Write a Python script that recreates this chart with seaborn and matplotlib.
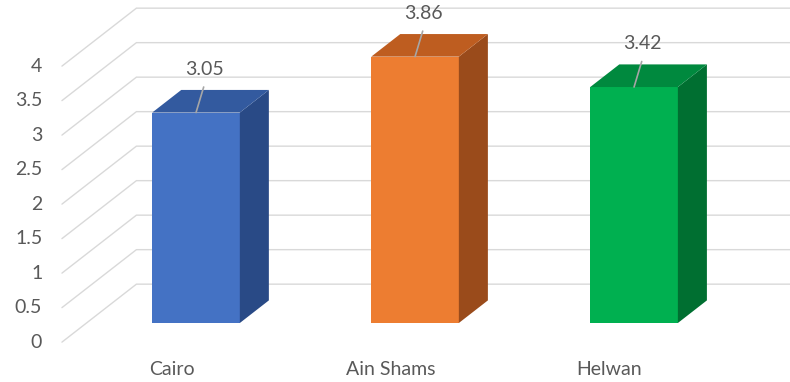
import matplotlib
matplotlib.use("Agg")
import matplotlib.pyplot as plt
import seaborn as sns
import pandas as pd
from matplotlib.patches import Polygon

# ---- data ----
categories = ["Cairo", "Ain Shams", "Helwan"]
values = [3.05, 3.86, 3.42]
value_labels = ["3.05", "3.86", "3.42"]
y_ticks = [0, 0.5, 1, 1.5, 2, 2.5, 3, 3.5, 4]
y_tick_labels = ["0", "0.5", "1", "1.5", "2", "2.5", "3", "3.5", "4"]

# ---- styles ----
front_colors = ["#4472C4", "#ED7D31", "#00B050"]
top_colors = ["#335A9F", "#BE5D20", "#00893E"]
side_colors = ["#294A86", "#9A4B1B", "#006F31"]
text_color = "#595959"
grid_color = "#D9D9D9"

# oblique 3D projection (full depth of the floor in data units)
DEPTH_X = 0.34
DEPTH_Y = 0.84
FRONT_D = -0.33   # floor front relative to bar front plane
BACK_D = 0.67     # back wall relative to bar front plane
BAR_D = 0.39      # bar depth

sns.set_theme(style="white")
plt.rcParams["font.family"] = ["Lato", "DejaVu Sans"]

fig = plt.figure(figsize=(7.9, 3.82), dpi=100)
ax = fig.add_axes([0, 0, 1, 1])

df = pd.DataFrame({"city": categories, "score": values})
sns.barplot(data=df, x="city", y="score", hue="city", palette=front_colors,
            saturation=1, width=0.4, legend=False, ax=ax, zorder=3,
            linewidth=0, errorbar=None)

ax.set_xlim(-0.895, 2.712)
ax.set_ylim(-0.855, 4.681)
ax.set_axis_off()

# grid: left-wall diagonals + back-wall horizontals
left = -0.5
right = len(categories) - 0.5
for t, lab in zip(y_ticks, y_tick_labels):
    xf, yf = left + FRONT_D * DEPTH_X, t + FRONT_D * DEPTH_Y
    xb, yb = left + BACK_D * DEPTH_X, t + BACK_D * DEPTH_Y
    xr = right + BACK_D * DEPTH_X
    ax.plot([xf, xb, xr], [yf, yb, yb], color=grid_color, lw=1.0,
            zorder=1, solid_joinstyle="miter")
    ax.text(xf - 0.09, yf, lab, ha="right", va="center",
            color=text_color, fontsize=14)

# 3D faces of the bars
bx, by = BAR_D * DEPTH_X, BAR_D * DEPTH_Y
for i, p in enumerate(ax.patches[:len(categories)]):
    x0 = p.get_x()
    w = p.get_width()
    h = p.get_height()
    x1 = x0 + w
    side = Polygon([(x1, 0), (x1 + bx, by), (x1 + bx, h + by), (x1, h)],
                   closed=True, facecolor=side_colors[i], edgecolor="none",
                   zorder=3)
    top = Polygon([(x0, h), (x1, h), (x1 + bx, h + by), (x0 + bx, h + by)],
                  closed=True, facecolor=top_colors[i], edgecolor="none",
                  zorder=3)
    ax.add_patch(side)
    ax.add_patch(top)
    xc = x0 + w / 2
    # leader line + data label
    ax.plot([xc, xc + 0.035], [h, h + 0.37], color="#A6A6A6", lw=1.2,
            zorder=4)
    ax.text(xc + 0.04, h + 0.63, value_labels[i], ha="center", va="center",
            color=text_color, fontsize=14, zorder=5)

# category labels at floor front
for i, c in enumerate(categories):
    ax.text(i + FRONT_D * DEPTH_X, -0.68, c, ha="center", va="center",
            color=text_color, fontsize=14)

fig.savefig("out.png", dpi=100, facecolor="white")
